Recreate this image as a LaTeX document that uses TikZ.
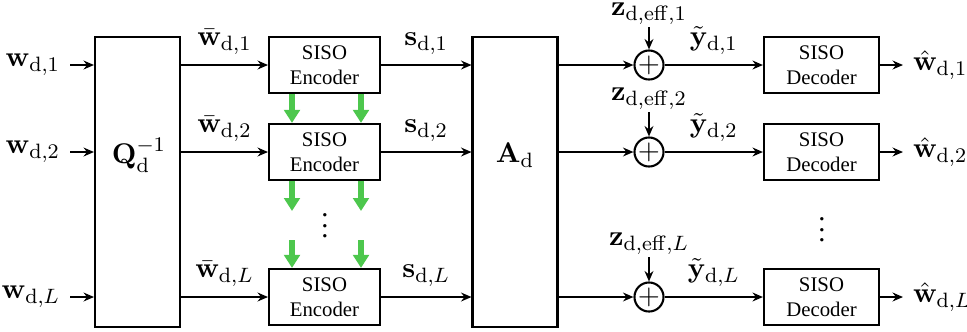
\documentclass[tikz,border=0pt,11pt]{standalone}
\usepackage{amsmath}
\usepackage[no-math]{fontspec}
\setmainfont{Liberation Serif}
\usetikzlibrary{arrows.meta}

\definecolor{feedgreen}{RGB}{77,199,77}
\tikzset{
  sisoblk/.style={draw, thick, minimum width=42.7pt, minimum height=21.6pt,
    align=center, font=\scriptsize, inner sep=0pt},
  tallblk/.style={draw, thick, minimum width=32.7pt, minimum height=111.7pt},
  adder/.style={draw, thick, circle, minimum size=10.4pt, inner sep=0pt, font=\normalsize},
  noiselbl/.style={inner sep=0.8pt},
  sig/.style={thick, -{Stealth[length=4pt,width=3.4pt]}},
  feed/.style={feedgreen, line width=2pt, -{Triangle[length=5pt,width=6pt]}},
}

\begin{document}
\begin{tikzpicture}[x=0.385pt, y=-0.385pt]
    \useasboundingbox (0,0) rectangle (967,331);
    % big matrices
    \node[tallblk] (Q) at (137.5,182) {};
    \node (qlab) at (139,155) {$\mathbf{Q}_{\mathrm{d}}^{-1}$};
    \node[tallblk] (A) at (515,182) {};
    \node (alab) at (515,155) {$\mathbf{A}_{\mathrm{d}}$};
    % inputs
    \node[anchor=east] (w1) at (70,65) {$\mathbf{w}_{\mathrm{d},1}$};
    \node[anchor=east] (w2) at (70,152) {$\mathbf{w}_{\mathrm{d},2}$};
    \node[anchor=east] (wL) at (70,297) {$\mathbf{w}_{\mathrm{d},L}$};
    \draw[sig] (w1.east) -- (w1.east -| Q.west);
    \draw[sig] (w2.east) -- (w2.east -| Q.west);
    \draw[sig] (wL.east) -- (wL.east -| Q.west);
    % encoders
    \node[sisoblk] (e1) at (324.5,65) {SISO\\Encoder};
    \node[sisoblk] (e2) at (324.5,152) {SISO\\Encoder};
    \node[sisoblk] (eL) at (324.5,297) {SISO\\Encoder};
    \draw[sig] (e1 -| Q.east) -- (e1) node[midway, above] {$\bar{\mathbf{w}}_{\mathrm{d},1}$};
    \draw[sig] (e2 -| Q.east) -- (e2) node[midway, above] {$\bar{\mathbf{w}}_{\mathrm{d},2}$};
    \draw[sig] (eL -| Q.east) -- (eL) node[midway, above] {$\bar{\mathbf{w}}_{\mathrm{d},L}$};
    \draw[sig] (e1.east) -- (e1.east -| A.west) node[midway, above] {$\mathbf{s}_{\mathrm{d},1}$};
    \draw[sig] (e2.east) -- (e2.east -| A.west) node[midway, above] {$\mathbf{s}_{\mathrm{d},2}$};
    \draw[sig] (eL.east) -- (eL.east -| A.west) node[midway, above] {$\mathbf{s}_{\mathrm{d},L}$};
    % green arrows between encoders
    \node (edots) at (325,218) {$\vdots$};
    \coordinate (g1) at (292,211);
    \coordinate (g2) at (361,211);
    \coordinate (h1) at (292,240);
    \coordinate (h2) at (361,240);
    \draw[feed] (e1.south -| g1) -- (e2.north -| g1);
    \draw[feed] (e1.south -| g2) -- (e2.north -| g2);
    \draw[feed] (e2.south -| g1) -- (g1);
    \draw[feed] (e2.south -| g2) -- (g2);
    \draw[feed] (h1) -- (eL.north -| h1);
    \draw[feed] (h2) -- (eL.north -| h2);
    % noise adders
    \node[adder] (a1) at (649,65) {$+$};
    \node[adder] (a2) at (649,152) {$+$};
    \node[adder] (aL) at (649,297) {$+$};
    \node[noiselbl] (z1) at (649,14) {$\mathbf{z}_{\mathrm{d},\mathrm{eff},1}$};
    \node[noiselbl] (z2) at (649,99) {$\mathbf{z}_{\mathrm{d},\mathrm{eff},2}$};
    \node[noiselbl] (zL) at (649,244) {$\mathbf{z}_{\mathrm{d},\mathrm{eff},L}$};
    \draw[sig] (z1) -- (a1);
    \draw[sig] (z2) -- (a2);
    \draw[sig] (zL) -- (aL);
    \draw[sig] (a1 -| A.east) -- (a1);
    \draw[sig] (a2 -| A.east) -- (a2);
    \draw[sig] (aL -| A.east) -- (aL);
    % decoders
    \node[sisoblk, minimum width=44.3pt] (d1) at (821.5,65) {SISO\\Decoder};
    \node[sisoblk, minimum width=44.3pt] (d2) at (821.5,152) {SISO\\Decoder};
    \node[sisoblk, minimum width=44.3pt] (dL) at (821.5,297) {SISO\\Decoder};
    \node (ddots) at (822,222) {$\vdots$};
    \draw[sig] (a1) -- (d1) node[midway, above] {$\tilde{\mathbf{y}}_{\mathrm{d},1}$};
    \draw[sig] (a2) -- (d2) node[midway, above] {$\tilde{\mathbf{y}}_{\mathrm{d},2}$};
    \draw[sig] (aL) -- (dL) node[midway, above] {$\tilde{\mathbf{y}}_{\mathrm{d},L}$};
    % outputs
    \node[anchor=west] (o1) at (903,65) {$\hat{\mathbf{w}}_{\mathrm{d},1}$};
    \node[anchor=west] (o2) at (903,152) {$\hat{\mathbf{w}}_{\mathrm{d},2}$};
    \node[anchor=west] (oL) at (903,297) {$\hat{\mathbf{w}}_{\mathrm{d},L}$};
    \draw[sig] (d1) -- (o1);
    \draw[sig] (d2) -- (o2);
    \draw[sig] (dL) -- (oL);
\end{tikzpicture}
\end{document}
